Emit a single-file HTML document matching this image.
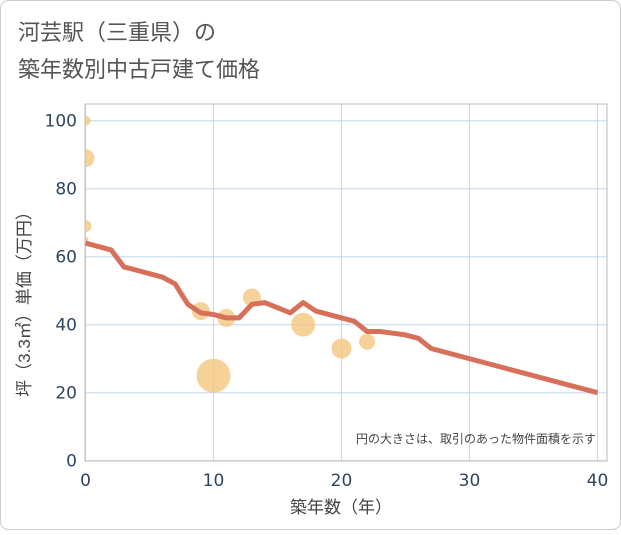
<!DOCTYPE html>
<html><head><meta charset="utf-8"><style>
body{margin:0;background:#fff;font-family:"Liberation Sans","Noto Sans CJK JP",sans-serif;}
</style></head><body>
<svg width="621" height="530" style="font-family:'Liberation Sans','Noto Sans CJK JP',sans-serif">
<defs><clipPath id="pc"><rect x="85" y="104" width="522" height="357"/></clipPath></defs>
<rect x="0.5" y="0.5" width="620" height="529" rx="8" fill="#fff" stroke="#ccc"/>
<text x="18" y="40" font-size="22" fill="#555">河芸駅（三重県）の</text>
<text x="18" y="77" font-size="22" fill="#555">築年数別中古戸建て価格</text>
<g id="plot"></g>
<text x="596" y="443" font-size="12" fill="#444" text-anchor="end">円の大きさは、取引のあった物件面積を示す</text>
<text x="341" y="513" font-size="17" fill="#444" text-anchor="middle">築年数（年）</text>
<text transform="translate(30,300) rotate(-90)" font-size="17" fill="#444" text-anchor="middle">坪（3.3㎡）単価（万円）</text>
</svg>
<script>
const xTicks=[0,10,20,30,40];
const yTicks=[0,20,40,60,80,100];
const lineX=[0,2,3,6,7,8,9,10,11,12,13,14,16,17,18,21,22,23,24,25,26,27,40];
const lineY=[64,62,57,54,52,46,43.5,43,42,42,46,46.5,43.5,46.5,44,41,38,38,37.5,37,36,33,20];
const bubX=[0,0,0,0,9,10,11,13,17,20,22];
const bubY=[100,89,69,65,44,25,42,48,40,33,35];
const bubR=[5,9,6,3,9,17,9,9,12,10,8];
const ns="http://www.w3.org/2000/svg";
const g=document.getElementById('plot');
const L=85,R=607,T=104,B=461;
const sx=v=>85.5+v*12.8, sy=v=>460.7-v*3.4;
function mk(t,a,p){const e=document.createElementNS(ns,t);for(const k in a)e.setAttribute(k,a[k]);(p||g).appendChild(e);return e;}
xTicks.forEach(v=>{const l=mk('line',{x1:sx(v),x2:sx(v),y1:T,y2:B,stroke:'#c5d8e8'});


const t=mk('text',{x:sx(v),y:486,'font-size':17,fill:'#2f4560','text-anchor':'middle','font-family':'DejaVu Sans, sans-serif'});t.textContent=v;

});
yTicks.forEach(v=>{const l=mk('line',{x1:L,x2:R,y1:sy(v),y2:sy(v),stroke:'#c5d8e8'});


const t=mk('text',{x:77,y:sy(v)+6,'font-size':17,fill:'#2f4560','text-anchor':'end','font-family':'DejaVu Sans, sans-serif'});t.textContent=v;

});
const fr=mk('rect',{x:L,y:T,width:R-L,height:B-T,fill:'none',stroke:'#bbb'});


const cg=mk('g',{'clip-path':'url(#pc)'});


bubX.forEach((v,i)=>{const c=mk('circle',{cx:sx(v),cy:sy(bubY[i]),r:bubR[i],fill:'#f5c77e',opacity:0.8},cg);

});
const p=mk('polyline',{points:lineX.map((v,i)=>sx(v)+','+sy(lineY[i])).join(' '),fill:'none',stroke:'#d6705a',
'stroke-width':5,'stroke-linejoin':'round'},cg);


</script>
</body></html>
